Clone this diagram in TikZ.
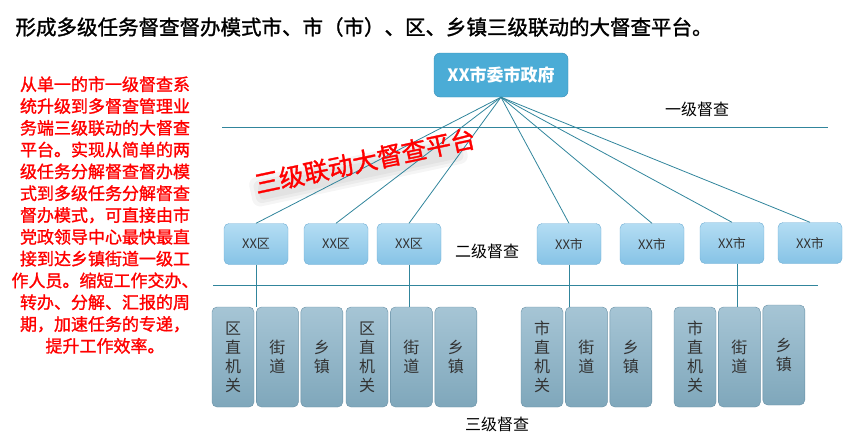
\documentclass[tikz,border=0pt]{standalone}
\usepackage{fontspec}
\newfontfamily\cjk{Noto Sans CJK SC}
\newfontfamily\cjkmid[FakeBold=1.3]{Noto Sans CJK SC}
\usetikzlibrary{positioning, calc}
\definecolor{line-teal}{HTML}{31859C}
\definecolor{top-blue}{HTML}{4BACD6}
\definecolor{top-edge}{HTML}{3A8DB5}
\definecolor{mid-top}{HTML}{B4DDF3}
\definecolor{mid-bot}{HTML}{86C3E6}
\definecolor{mid-edge}{HTML}{70AED4}
\definecolor{low-top}{HTML}{A6C5D5}
\definecolor{low-bot}{HTML}{7FA7BB}
\definecolor{low-edge}{HTML}{6890A5}

\begin{document}
\begin{tikzpicture}[x=1pt, y=-1pt, node distance=2pt,
	every node/.style={font=\cjk},
	govbox/.style={draw=top-edge, fill=top-blue, rounded corners=6pt, minimum width=134pt, minimum height=44pt, text=white, font=\cjk\bfseries\fontsize{17}{20}\selectfont},
	midbox/.style={draw=mid-edge, top color=mid-top, bottom color=mid-bot, rounded corners=5pt, minimum width=64pt, minimum height=41pt, inner sep=0pt, text=black!80, font=\cjk\fontsize{13}{15}\selectfont},
	lowbox/.style={draw=low-edge, top color=low-top, bottom color=low-bot, rounded corners=5pt, minimum width=42pt, minimum height=100pt, inner sep=0pt, align=center, text=black!80, font=\cjk\fontsize{16}{19}\selectfont},
	tier/.style={text=black, font=\cjk\fontsize{16}{18}\selectfont},
	link/.style={draw=line-teal, line width=0.8pt}]
\useasboundingbox (0,0) rectangle (852,440);

% title and side note
\node[anchor=west, font=\cjkmid\fontsize{20.5}{24}\selectfont] (title) at (12,27) {形成多级任务督查督办模式市、市（市）、区、乡镇三级联动的大督查平台。};
\node[text=red, align=center, font=\cjkmid\fontsize{17}{21.8}\selectfont] (note) at (105,215) {从单一的市一级督查系\\统升级到多督查管理业\\务端三级联动的大督查\\平台。实现从简单的两\\级任务分解督查督办模\\式到多级任务分解督查\\督办模式，可直接由市\\党政领导中心最快最直\\接到达乡镇街道一级工\\作人员。缩短工作交办、\\转办、分解、汇报的周\\期，加速任务的专递，\\提升工作效率。};

% level 1
\node[govbox] (gov) at (501,75) {XX市委市政府};
\node[tier] (t1) at (697,109) {一级督查};
\draw[link] (222,127) -- (828,127);

% watermark shadow
\begin{scope}[shift={(360,168)}, rotate=12]
	\fill[black, opacity=0.04, rounded corners=8pt] (-112,-13) rectangle (108,17);
	\fill[black, opacity=0.04, rounded corners=6pt] (-108,-9) rectangle (104,14);
	\fill[black, opacity=0.04, rounded corners=4pt] (-104,-5) rectangle (100,11);
\end{scope}

% level 2
\node[midbox] (q1) at (256,244) {XX区};
\node[midbox] (q2) at (336,244) {XX区};
\node[midbox] (q3) at (409,244) {XX区};
\node[midbox] (s1) at (569,244) {XX市};
\node[midbox] (s2) at (652,244) {XX市};
\node[midbox] (s3) at (732,243) {XX市};
\node[midbox] (s4) at (810,243) {XX市};
\node[tier] (t2) at (487,251) {二级督查};
\draw[link] (gov.south) -- (q1.north);
\draw[link] (gov.south) -- (q2.north);
\draw[link] (gov.south) -- (q3.north);
\draw[link] (gov.south) -- (s1.north);
\draw[link] (gov.south) -- (s2.north);
\draw[link] (gov.south) -- (s3.north);
\draw[link] (gov.south) -- (s4.north);
\draw[link] (213,285) -- (818,285);

% watermark
\node[rotate=12, text=red, font=\cjkmid\fontsize{25}{25}\selectfont] (mark) at (365,161) {三级联动大督查平台};

% level 3
\node[lowbox] (a1) at (233,357) {区\\直\\机\\关};
\node[lowbox, right=of a1] (a2) {街\\道};
\node[lowbox, right=of a2] (a3) {乡\\镇};
\node[lowbox] (b1) at (367,357) {区\\直\\机\\关};
\node[lowbox, right=of b1] (b2) {街\\道};
\node[lowbox, right=of b2] (b3) {乡\\镇};
\node[lowbox] (c1) at (542,357) {市\\直\\机\\关};
\node[lowbox, right=of c1] (c2) {街\\道};
\node[lowbox, right=of c2] (c3) {乡\\镇};
\node[lowbox] (d1) at (695,357) {市\\直\\机\\关};
\node[lowbox, right=of d1] (d2) {街\\道};
\node[lowbox, right=of d2, yshift=2pt] (d3) {乡\\镇};
\node[tier] (t3) at (497,424) {三级督查};
\draw[link] (q1.south) -- (q1.south |- a2.north);
\draw[link] (q3.south) -- (q3.south |- b2.north);
\draw[link] (s1.south) -- (s1.south |- c2.north);
\draw[link] ($(s3.south)+(5,0)$) -- ($(s3.south |- d2.north)+(5,0)$);
\end{tikzpicture}
\end{document}
